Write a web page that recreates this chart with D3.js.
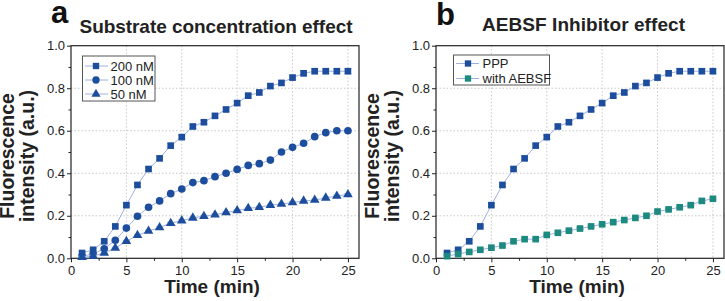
<!DOCTYPE html>
<html><head><meta charset="utf-8">
<script src="https://cdn.jsdelivr.net/npm/d3@7"></script>
<style>body{margin:0;background:#fff}svg{display:block}text{font-family:"Liberation Sans",Arial,sans-serif}</style>
</head><body>
<svg id="c" width="725" height="301"></svg>
<script>
const time = d3.range(1, 26);
const s200 = [0.025,0.04,0.08,0.15,0.25,0.345,0.42,0.47,0.53,0.57,0.62,0.64,0.67,0.70,0.73,0.765,0.78,0.81,0.825,0.85,0.87,0.88,0.88,0.88,0.88];
const s100 = [0.01,0.02,0.045,0.085,0.142,0.198,0.24,0.27,0.304,0.326,0.356,0.365,0.384,0.40,0.418,0.437,0.445,0.462,0.50,0.522,0.541,0.572,0.591,0.60,0.60];
const s50  = [0.005,0.01,0.025,0.048,0.08,0.108,0.128,0.145,0.165,0.177,0.19,0.198,0.205,0.215,0.225,0.235,0.24,0.25,0.255,0.262,0.27,0.274,0.284,0.293,0.30];
const sPPP = s200;
const sAEBSF = [0.01,0.02,0.03,0.04,0.05,0.06,0.08,0.09,0.09,0.11,0.12,0.13,0.14,0.15,0.16,0.17,0.18,0.19,0.20,0.22,0.23,0.24,0.25,0.27,0.28];
const err200 = [0.006,0.006,0.007,0.007,0.008,0.008,0.008,0.008,0.009,0.009,0.009,0.009,0.009,0.009,0.01,0.01,0.01,0.01,0.01,0.011,0.011,0.011,0.011,0.011,0.011];
const errSmall = 0.004;
const xTicks = [0,5,10,15,20,25];
const yTicks = [0.0,0.2,0.4,0.6,0.8,1.0];
const panelTitles = ["Substrate concentration effect","AEBSF Inhibitor effect"];
const panelLetters = ["a","b"];

const BLUE = "#1d4e9e", TEAL = "#1c8a7f", LINE = "#9fb0e2", ERR = "#a9b8e6";
const svg = d3.select("#c");

const panels = [
  {x0:71, x1:359, letter:{x:51,y:23}, title:{x:79.5,len:273,y:33},
   series:[{name:"200 nM",v:s200,e:err200,shape:d3.symbolSquare,color:BLUE},
           {name:"100 nM",v:s100,e:null,shape:d3.symbolCircle,color:BLUE},
           {name:"50 nM",v:s50,e:null,shape:d3.symbolTriangle,color:BLUE}],
   legend:{x:82.5,y:56,w:72.5,h:45,rows:[66,80,94],lx1:85,lx2:108,mx:96,tx:110.5}},
  {x0:436, x1:724, letter:{x:436,y:25}, title:{x:482,len:203,y:31},
   series:[{name:"PPP",v:sPPP,e:err200,shape:d3.symbolSquare,color:BLUE},
           {name:"with AEBSF",v:sAEBSF,e:null,shape:d3.symbolSquare,color:TEAL}],
   legend:{x:453.5,y:55,w:96,h:30,rows:[63.5,78.5],lx1:456,lx2:479,mx:468,tx:482.5}}
];
const yTop = 45.7, yBot = 258.3;

panels.forEach((p, pi) => {
  const x = d3.scaleLinear().domain([0,26]).range([p.x0, p.x1]);
  const y = d3.scaleLinear().domain([0,1]).range([yBot, yTop]);
  const g = svg.append("g");
  // grid
  g.append("g").selectAll("line").data(xTicks.filter(t=>t>0)).join("line")
    .attr("x1", d=>x(d)).attr("x2", d=>x(d)).attr("y1", yTop).attr("y2", yBot)
    .attr("stroke","#c8c8c8").attr("stroke-width",1).attr("stroke-dasharray","1.5,2");
  g.append("g").selectAll("line").data(yTicks.filter(t=>t>0 && t<1)).join("line")
    .attr("x1", p.x0).attr("x2", p.x1).attr("y1", d=>y(d)).attr("y2", d=>y(d))
    .attr("stroke","#c8c8c8").attr("stroke-width",1).attr("stroke-dasharray","1.5,2");
  // frame
  g.append("rect").attr("x",p.x0).attr("y",yTop).attr("width",p.x1-p.x0).attr("height",yBot-yTop)
    .attr("fill","none").attr("stroke","#222").attr("stroke-width",1.2);
  // axes
  const xa = g.append("g").attr("transform",`translate(0,${yBot})`)
    .call(d3.axisBottom(x).tickValues(xTicks).tickFormat(d3.format("d")).tickSize(4).tickPadding(3));
  const xm = g.append("g").attr("transform",`translate(0,${yBot})`)
    .call(d3.axisBottom(x).tickValues(d3.range(2.5,26,5)).tickFormat("").tickSize(2.5));
  const ya = g.append("g").attr("transform",`translate(${p.x0},0)`)
    .call(d3.axisLeft(y).tickValues(yTicks).tickFormat(d3.format(".1f")).tickSize(4).tickPadding(2));
  const ym = g.append("g").attr("transform",`translate(${p.x0},0)`)
    .call(d3.axisLeft(y).tickValues([0.1,0.3,0.5,0.7,0.9]).tickFormat("").tickSize(2.5));
  [xa,xm,ya,ym].forEach(a=>{
    a.select(".domain").remove();
    a.selectAll("line").attr("stroke","#222");
    a.selectAll("text").attr("font-size",13).attr("fill","#222").attr("font-family",'"Liberation Sans",Arial,sans-serif');
  });
  // series
  const line = d3.line().x((d,i)=>x(time[i])).y(d=>y(d));
  p.series.forEach(s=>{
    g.append("path").datum(s.v).attr("d",line).attr("fill","none").attr("stroke",LINE).attr("stroke-width",1);
    const eg = g.append("g").attr("stroke",ERR).attr("stroke-width",1.2);
    s.v.forEach((v,i)=>{
      const e = s.e ? s.e[i] : errSmall;
      const cx = x(time[i]);
      eg.append("line").attr("x1",cx).attr("x2",cx).attr("y1",y(v-e)).attr("y2",y(v+e));
      eg.append("line").attr("x1",cx-3.5).attr("x2",cx+3.5).attr("y1",y(v-e)).attr("y2",y(v-e));
      eg.append("line").attr("x1",cx-3.5).attr("x2",cx+3.5).attr("y1",y(v+e)).attr("y2",y(v+e));
    });
    const sz = s.shape===d3.symbolSquare ? 44 : (s.shape===d3.symbolCircle ? 46 : 40);
    g.append("g").selectAll("path").data(s.v).join("path")
      .attr("transform",(d,i)=>`translate(${x(time[i])},${y(d)})`)
      .attr("d", d3.symbol().type(s.shape).size(sz)).attr("fill",s.color);
  });
  // legend
  const L = p.legend;
  g.append("rect").attr("x",L.x).attr("y",L.y).attr("width",L.w).attr("height",L.h)
    .attr("fill","#fff").attr("stroke","#555").attr("stroke-width",1);
  p.series.forEach((s,i)=>{
    const ry = L.rows[i];
    g.append("line").attr("x1",L.lx1).attr("x2",L.lx2).attr("y1",ry).attr("y2",ry).attr("stroke",LINE).attr("stroke-width",1);
    const sz = s.shape===d3.symbolSquare ? 40 : (s.shape===d3.symbolCircle ? 42 : 36);
    g.append("path").attr("transform",`translate(${L.mx},${ry})`).attr("d",d3.symbol().type(s.shape).size(sz)).attr("fill",s.color);
    g.append("text").attr("x",L.tx).attr("y",ry).attr("dy","0.36em").attr("font-size",13).attr("fill","#222").text(s.name);
  });
  // titles
  svg.append("text").attr("x",p.letter.x).attr("y",p.letter.y).attr("font-size",31).attr("font-weight","bold").attr("fill","#111").text(panelLetters[pi]);
  svg.append("text").attr("x",p.title.x).attr("y",p.title.y).attr("font-size",19).attr("font-weight","bold").attr("fill","#222")
    .attr("textLength",p.title.len).attr("lengthAdjust","spacing").text(panelTitles[pi]);
  // axis titles
  const cx = (p.x0 + x(25) + 13) / 2;
  svg.append("text").attr("x",(p.x0+p.x1)/2 - 3).attr("y",293).attr("text-anchor","middle").attr("font-size",19).attr("font-weight","bold").attr("fill","#222").text("Time (min)");
  const ax = p.x0 - 71;
  svg.append("text").attr("transform",`translate(${ax+14},156) rotate(-90)`).attr("text-anchor","middle").attr("font-size",19.5).attr("font-weight","bold").attr("fill","#222").text("Fluorescence");
  svg.append("text").attr("transform",`translate(${ax+33.5},156) rotate(-90)`).attr("text-anchor","middle").attr("font-size",19.5).attr("font-weight","bold").attr("fill","#222").text("intensity (a.u.)");
});
</script>
</body></html>
